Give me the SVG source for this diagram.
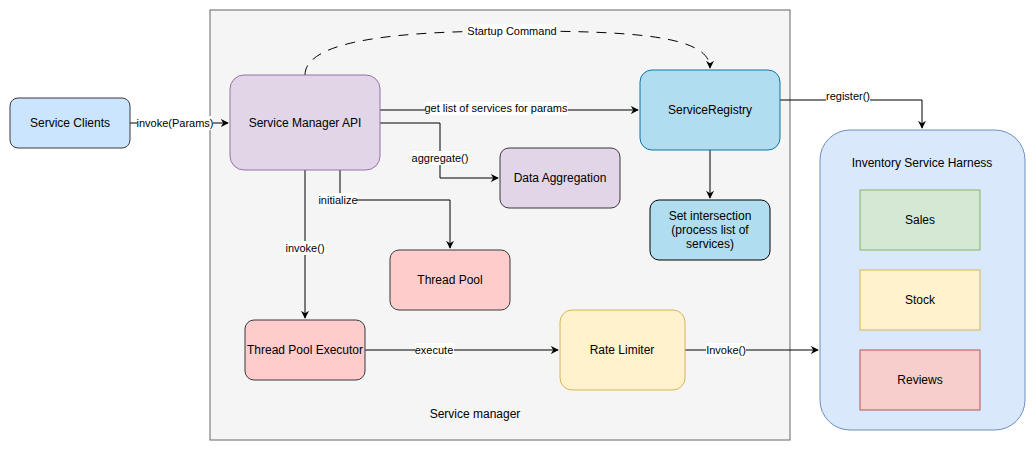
<svg xmlns="http://www.w3.org/2000/svg" width="1036" height="451" viewBox="0 0 1036 451">
<defs>
<marker id="arr" viewBox="0 0 10 10" refX="9" refY="5" markerWidth="8" markerHeight="8" markerUnits="userSpaceOnUse" orient="auto">
<path d="M0,0 L10,5 L0,10 L3,5 Z" fill="#000"/>
</marker>
</defs>
<style>
text{font-family:"Liberation Sans",Arial,sans-serif;fill:#000;text-anchor:middle}
.n{font-size:12px}
.l{font-size:11px}
.e{fill:none;stroke:#000;stroke-width:1}
.lb{fill:#fff}
</style>
<rect width="1036" height="451" fill="#fff"/>
<g id="service-manager">
<rect x="210" y="10" width="580" height="430" fill="#f5f5f5" stroke="#666666"/>
<text class="n" x="475" y="418">Service manager</text>
</g>
<g id="harness">
<rect x="820" y="130" width="205" height="300" rx="30" fill="#dae8fc" stroke="#6c8ebf"/>
<text class="n" x="922" y="167">Inventory Service Harness</text>
</g>
<g id="sales">
<rect x="860" y="190" width="120" height="60" fill="#d5e8d4" stroke="#82b366"/>
<text class="n" x="920" y="224">Sales</text>
</g>
<g id="stock">
<rect x="860" y="270" width="120" height="60" fill="#fff2cc" stroke="#d6b656"/>
<text class="n" x="920" y="304">Stock</text>
</g>
<g id="reviews">
<rect x="860" y="350" width="120" height="60" fill="#f8cecc" stroke="#b85450"/>
<text class="n" x="920" y="384">Reviews</text>
</g>
<g id="connectors">
<path class="e" d="M130,123 L228,123" marker-end="url(#arr)"/>
<path class="e" d="M380,110 L638,110" marker-end="url(#arr)"/>
<path class="e" d="M380,123 L440,123 L440,178 L498,178" marker-end="url(#arr)"/>
<path class="e" d="M340,170 L340,200 L450,200 L450,248" marker-end="url(#arr)"/>
<path class="e" d="M305,170 L305,318" marker-end="url(#arr)"/>
<path class="e" d="M305,75 C305,40 400,31 512,31 C630,31 710,35 710,68" stroke-dasharray="10 8" marker-end="url(#arr)"/>
<path class="e" d="M780,100 L922,100 L922,128" marker-end="url(#arr)"/>
<path class="e" d="M710,150 L710,198" marker-end="url(#arr)"/>
<path class="e" d="M365,350 L558,350" marker-end="url(#arr)"/>
<path class="e" d="M685,350 L818,350" marker-end="url(#arr)"/>
<rect class="lb" x="137" y="116" width="76" height="14"/>
<text class="l" x="175" y="127">invoke(Params)</text>
<rect class="lb" x="425" y="102" width="143" height="13"/>
<text class="l" x="496" y="112">get list of services for params</text>
<rect class="lb" x="412" y="151" width="56" height="14"/>
<text class="l" x="440" y="162">aggregate()</text>
<rect class="lb" x="319" y="193" width="38" height="14"/>
<text class="l" x="338" y="204">initialize</text>
<rect class="lb" x="284" y="241" width="42" height="14"/>
<text class="l" x="305" y="252">invoke()</text>
<rect class="lb" x="467" y="24" width="90" height="14"/>
<text class="l" x="512" y="35">Startup Command</text>
<rect class="lb" x="826" y="89" width="44" height="14"/>
<text class="l" x="848" y="100">register()</text>
<rect class="lb" x="415" y="343" width="39" height="14"/>
<text class="l" x="434" y="354">execute</text>
<rect class="lb" x="706" y="343" width="40" height="14"/>
<text class="l" x="726" y="354">Invoke()</text>
</g>
<g id="service-clients">
<rect x="10" y="98" width="120" height="50" rx="8" fill="#cce5ff" stroke="#36393d"/>
<text class="n" x="70" y="127">Service Clients</text>
</g>
<g id="service-manager-api">
<rect x="230" y="75" width="150" height="95" rx="14" fill="#e1d5e7" stroke="#9673a6"/>
<text class="n" x="305" y="127">Service Manager API</text>
</g>
<g id="data-aggregation">
<rect x="500" y="148" width="120" height="60" rx="9" fill="#e1d5e7" stroke="#36393d"/>
<text class="n" x="560" y="182">Data Aggregation</text>
</g>
<g id="service-registry">
<rect x="640" y="70" width="140" height="80" rx="12" fill="#b1ddf0" stroke="#10739e"/>
<text class="n" x="710" y="114">ServiceRegistry</text>
</g>
<g id="set-intersection">
<rect x="650" y="200" width="120" height="60" rx="9" fill="#b1ddf0" stroke="#000"/>
<text class="n" x="710" y="220">Set intersection</text>
<text class="n" x="710" y="234">(process list of</text>
<text class="n" x="710" y="248">services)</text>
</g>
<g id="thread-pool">
<rect x="390" y="250" width="120" height="60" rx="9" fill="#ffcccc" stroke="#36393d"/>
<text class="n" x="450" y="284">Thread Pool</text>
</g>
<g id="thread-pool-executor">
<rect x="245" y="320" width="120" height="60" rx="9" fill="#ffcccc" stroke="#36393d"/>
<text class="n" x="305" y="354">Thread Pool Executor</text>
</g>
<g id="rate-limiter">
<rect x="560" y="310" width="125" height="80" rx="12" fill="#fff2cc" stroke="#d6b656"/>
<text class="n" x="622" y="354">Rate Limiter</text>
</g>
</svg>
